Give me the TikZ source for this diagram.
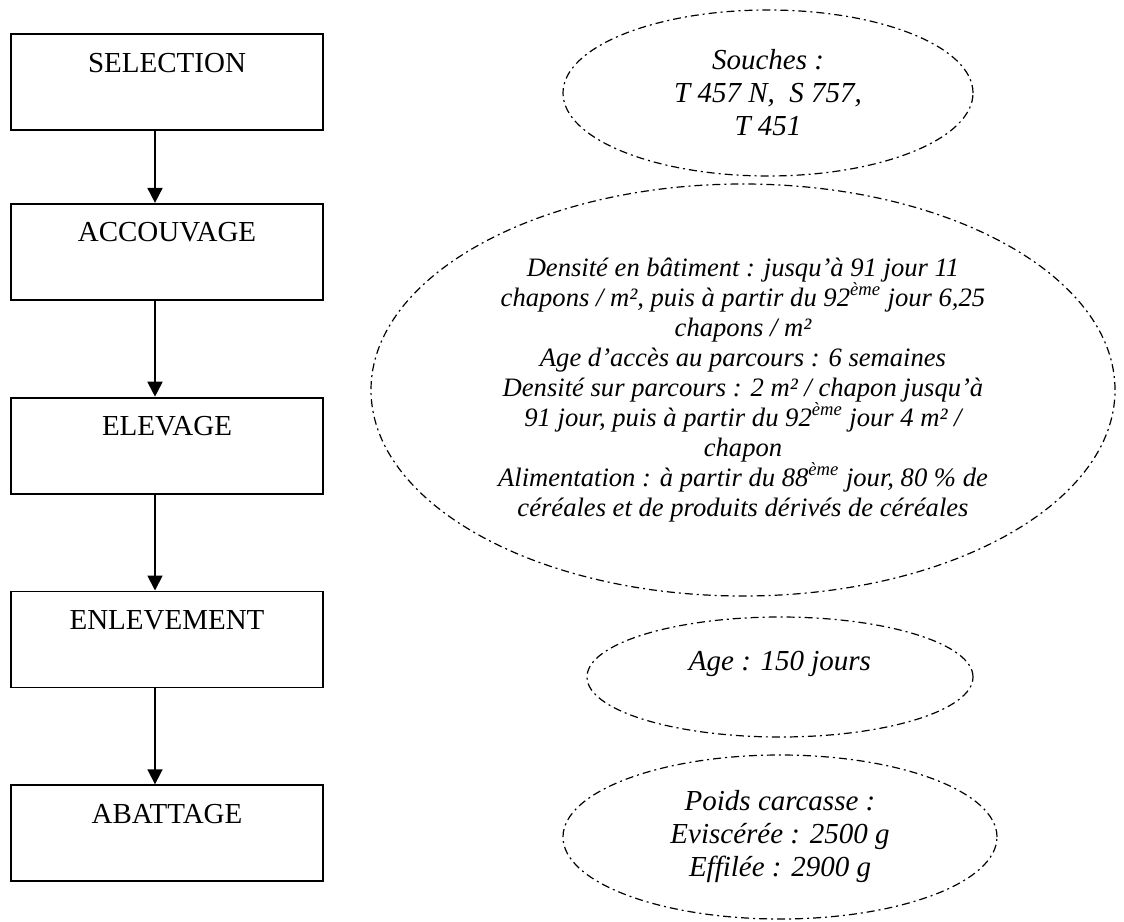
\documentclass[tikz,border=0pt]{standalone}
\usepackage{fontspec}
\setmainfont{Liberation Serif}
\usetikzlibrary{positioning, arrows.meta, shapes.geometric}
\tikzset{
>={Triangle[length=7.5pt, width=7.5pt]}, % filled arrow heads
etape/.style={draw, line width=0.9pt, minimum width=156pt, inner sep=0pt, text height=19pt, text depth=29pt, font=\fontsize{14.5}{16.5}\selectfont}, % the boxes of the chain, label near the top
critere/.style={ellipse, draw, line width=0.6pt, dash pattern=on 4pt off 2pt on 1pt off 2pt, inner sep=0pt, align=center, font=\itshape\fontsize{14.5}{16.5}\selectfont}, % dash-dotted notes on the right
}

\begin{document}
\begin{tikzpicture}[x=0.5pt, y=-0.5pt]
    \useasboundingbox (0,0) rectangle (1124,921);
    % Chain
    \node[etape] (sel) at (167,82) {SELECTION};
    \node[etape, below=36pt of sel] (acc) {ACCOUVAGE};
    \node[etape, below=48pt of acc] (ele) {ELEVAGE};
    \node[etape, below=48pt of ele] (enl) {ENLEVEMENT};
    \node[etape, below=48pt of enl] (aba) {ABATTAGE};
    \foreach \a/\b in {sel/acc, acc/ele, ele/enl, enl/aba}
        \draw[->, line width=0.9pt] ([xshift=-6pt]\a.south) -- ([xshift=-6pt]\b.north);
    % Notes
    \node[critere, minimum width=205pt, minimum height=83pt] (souches) at (768,93)
        {Souches :\\T 457 N,\ \ S 757,\\T 451};
    \node[critere, minimum width=372pt, minimum height=206pt, font=\itshape\fontsize{13.3}{15}\selectfont] (densite) at (743,390)
        {Densité en bâtiment : jusqu’à 91 jour 11\\
         chapons / m², puis à partir du 92\textsuperscript{ème} jour 6,25\\
         chapons / m²\\
         Age d’accès au parcours : 6 semaines\\
         Densité sur parcours : 2 m² / chapon jusqu’à\\
         91 jour, puis à partir du 92\textsuperscript{ème} jour 4 m² /\\
         chapon\\
         Alimentation : à partir du 88\textsuperscript{ème} jour, 80 \% de\\
         céréales et de produits dérivés de céréales};
    \node[critere, minimum width=193pt, minimum height=60pt, text height=10pt, text depth=17pt] (age) at (780,677)
        {Age : 150 jours};
    \node[critere, minimum width=217pt, minimum height=82pt] (poids) at (780,837)
        {Poids carcasse :\\Eviscérée : 2500 g\\Effilée : 2900 g};
\end{tikzpicture}
\end{document}
